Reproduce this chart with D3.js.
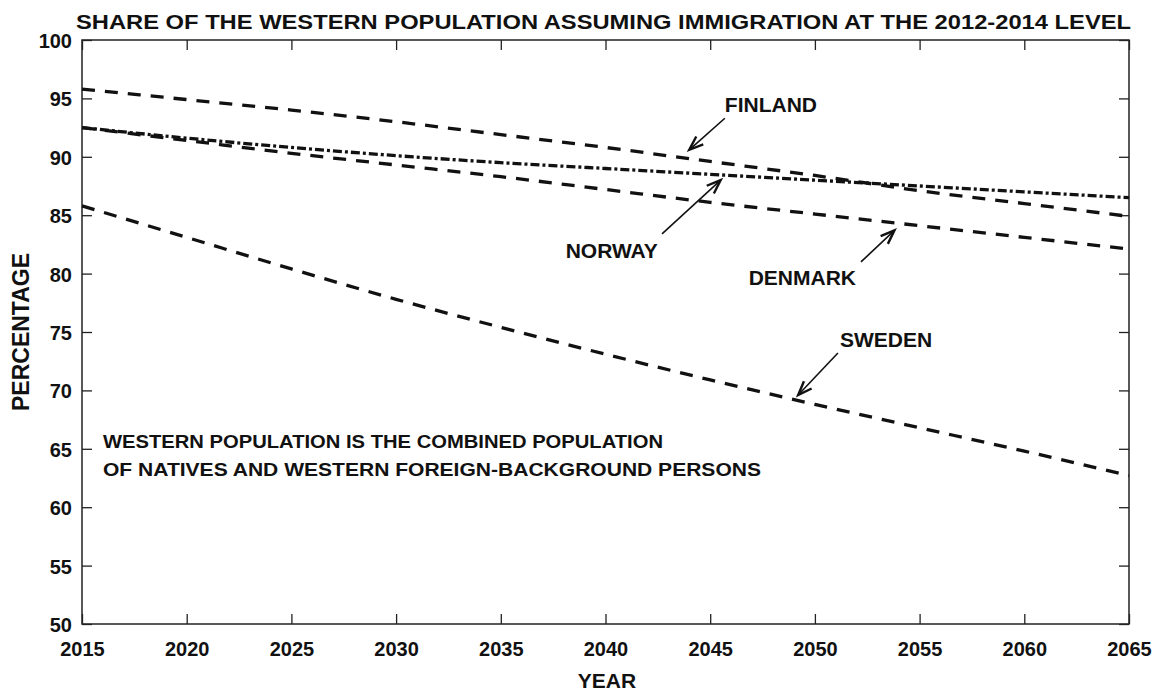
<!DOCTYPE html>
<html>
<head>
<meta charset="utf-8">
<script src="https://cdn.jsdelivr.net/npm/d3@7"></script>
<style>
  body { margin: 0; background: #fff; }
  text { font-family: "Liberation Sans", Arial, sans-serif; font-weight: bold; fill: #111; }
</style>
</head>
<body>
<script>
const years = [2015, 2020, 2025, 2030, 2035, 2040, 2045, 2050, 2055, 2060, 2065];
const finland = [95.8, 94.9, 94.0, 93.0, 91.9, 90.8, 89.6, 88.4, 87.1, 86.0, 84.9];
const norway  = [92.5, 91.6, 90.8, 90.1, 89.5, 89.0, 88.5, 88.0, 87.5, 87.0, 86.5];
const denmark = [92.5, 91.4, 90.3, 89.3, 88.3, 87.2, 86.1, 85.1, 84.1, 83.1, 82.1];
const sweden  = [85.8, 83.1, 80.4, 77.8, 75.4, 73.1, 70.9, 68.8, 66.8, 64.8, 62.7];
const xTicks = [2015, 2020, 2025, 2030, 2035, 2040, 2045, 2050, 2055, 2060, 2065];
const yTicks = [50, 55, 60, 65, 70, 75, 80, 85, 90, 95, 100];

// label text centre, arrow start, arrow tip (year, value)
const labels = [
  { name: "FINLAND", tx: 2047.9, ty: 94.5, ax: 2045.7, ay: 93.3, bx: 2044.0, by: 90.6 },
  { name: "NORWAY",  tx: 2040.3, ty: 82.0, ax: 2042.7, ay: 83.4, bx: 2045.5, by: 88.0 },
  { name: "DENMARK", tx: 2049.4, ty: 79.7, ax: 2052.2, ay: 81.0, bx: 2053.8, by: 83.7 },
  { name: "SWEDEN",  tx: 2053.4, ty: 74.4, ax: 2051.1, ay: 73.2, bx: 2049.2, by: 69.6 }
];

const w = 1153, h = 693;
const pLeft = 82, pRight = 1129, pTop = 40, pBottom = 624;

const svg = d3.select("body").append("svg")
  .attr("width", w).attr("height", h);

const x = d3.scaleLinear().domain([2015, 2065]).range([pLeft, pRight]);
const y = d3.scaleLinear().domain([50, 100]).range([pBottom, pTop]);

// frame
svg.append("rect")
  .attr("x", pLeft).attr("y", pTop)
  .attr("width", pRight - pLeft).attr("height", pBottom - pTop)
  .attr("fill", "none").attr("stroke", "#222").attr("stroke-width", 1.5);

// axes with inward ticks, mirrored on top and right
const xAxis = d3.axisBottom(x).tickValues(xTicks).tickSize(-10).tickPadding(18).tickFormat(d3.format("d"));
const yAxis = d3.axisLeft(y).tickValues(yTicks).tickSize(-10).tickPadding(10);

const gx = svg.append("g").attr("transform", `translate(0,${pBottom})`).call(xAxis);
const gy = svg.append("g").attr("transform", `translate(${pLeft},0)`).call(yAxis);
const gxt = svg.append("g").attr("transform", `translate(0,${pTop})`)
  .call(d3.axisTop(x).tickValues(xTicks).tickSize(-10).tickFormat(""));
const gyr = svg.append("g").attr("transform", `translate(${pRight},0)`)
  .call(d3.axisRight(y).tickValues(yTicks).tickSize(-10).tickFormat(""));

[gx, gy, gxt, gyr].forEach(g => {
  g.select(".domain").remove();
  g.selectAll(".tick line").attr("stroke", "#222").attr("stroke-width", 1.3);
});
gx.selectAll("text").attr("font-size", 20).attr("fill", "#111");
gy.selectAll("text").attr("font-size", 20).attr("fill", "#111").attr("dy", "0.37em");

// series
const line = d3.line()
  .x((d, i) => x(years[i]))
  .y(d => y(d))
  .curve(d3.curveMonotoneX);

const series = [
  { values: finland, dash: "13,10" },
  { values: denmark, dash: "13,10" },
  { values: sweden,  dash: "13,10" },
  { values: norway,  dash: "9,3,3,3" }
];

svg.selectAll("path.series")
  .data(series)
  .enter()
  .append("path")
  .attr("class", "series")
  .attr("d", d => line(d.values))
  .attr("fill", "none")
  .attr("stroke", "#111")
  .attr("stroke-width", 3.3)
  .attr("stroke-dasharray", d => d.dash);

// annotations
labels.forEach(l => {
  svg.append("text")
    .attr("x", x(l.tx)).attr("y", y(l.ty))
    .attr("dy", "0.36em")
    .attr("text-anchor", "middle")
    .attr("font-size", 21)
    .text(l.name);

  const x1 = x(l.ax), y1 = y(l.ay), x2 = x(l.bx), y2 = y(l.by);
  svg.append("line")
    .attr("x1", x1).attr("y1", y1).attr("x2", x2).attr("y2", y2)
    .attr("stroke", "#111").attr("stroke-width", 1.6);
  const ang = Math.atan2(y2 - y1, x2 - x1);
  const len = 15, spread = 0.36;
  const p1 = [x2 - len * Math.cos(ang - spread), y2 - len * Math.sin(ang - spread)];
  const p2 = [x2 - len * Math.cos(ang + spread), y2 - len * Math.sin(ang + spread)];
  svg.append("polyline")
    .attr("points", `${p1[0]},${p1[1]} ${x2},${y2} ${p2[0]},${p2[1]}`)
    .attr("fill", "none").attr("stroke", "#111").attr("stroke-width", 2.4);
});

// note
svg.append("text")
  .attr("x", 103).attr("y", 448)
  .attr("font-size", 19)
  .attr("textLength", 560).attr("lengthAdjust", "spacingAndGlyphs")
  .text("WESTERN POPULATION IS THE COMBINED POPULATION");
svg.append("text")
  .attr("x", 103).attr("y", 476)
  .attr("font-size", 19)
  .attr("textLength", 658).attr("lengthAdjust", "spacingAndGlyphs")
  .text("OF NATIVES AND WESTERN FOREIGN-BACKGROUND PERSONS");

// title
svg.append("text")
  .attr("x", 76).attr("y", 29)
  .attr("font-size", 20)
  .attr("textLength", 1055).attr("lengthAdjust", "spacingAndGlyphs")
  .text("SHARE OF THE WESTERN POPULATION ASSUMING  IMMIGRATION AT THE 2012-2014 LEVEL");

// axis titles
svg.append("text")
  .attr("x", 607).attr("y", 688)
  .attr("text-anchor", "middle")
  .attr("font-size", 21)
  .text("YEAR");

svg.append("text")
  .attr("transform", `translate(29,332) rotate(-90)`)
  .attr("text-anchor", "middle")
  .attr("font-size", 23)
  .attr("textLength", 158).attr("lengthAdjust", "spacingAndGlyphs")
  .text("PERCENTAGE");
</script>
</body>
</html>
